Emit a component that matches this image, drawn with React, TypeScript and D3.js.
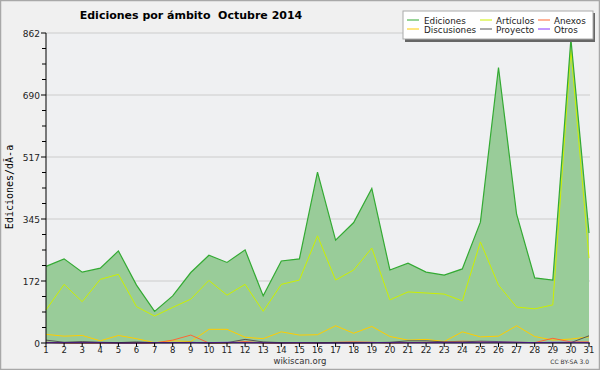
import React from "react";
import * as d3 from "d3";

const days = d3.range(1, 32);
const ediciones = [213,234,197,208,256,161,88,131,196,244,224,259,131,228,234,475,286,335,430,203,222,197,189,206,336,766,358,181,175,845,306];
const articulos = [92,163,115,177,191,101,75,99,122,174,133,163,88,163,175,298,175,203,264,120,142,139,136,117,281,161,100,95,106,815,236];
const discusiones = [24,19,21,6,21,12,1,6,4,38,38,16,12,31,22,23,48,27,46,18,8,10,4,31,17,19,48,18,8,11,17];
const anexos = [2,0,0,0,0,0,0,8,22,0,0,4,0,0,0,0,2,3,2,0,1,2,3,5,4,2,2,1,13,3,3];
const proyecto = [8,2,4,2,1,3,1,1,2,0,1,10,3,1,1,1,1,1,1,2,6,6,3,3,5,4,2,1,1,1,20];
const otros = [1,1,1,1,0,0,1,1,1,1,2,1,1,0,1,0,0,0,1,1,1,1,1,1,2,2,2,1,2,2,1];
const yTickLabels = ["0", "172", "345", "517", "690", "862"];
const yMax = 862;

const legendItems = [
  { name: "Ediciones", color: "#33aa33" },
  { name: "Discusiones", color: "#ffcc00" },
  { name: "Artículos", color: "#ccf000" },
  { name: "Proyecto", color: "#555555" },
  { name: "Anexos", color: "#ff6633" },
  { name: "Otros", color: "#8833ff" },
];

export default function App() {
  const W = 600, H = 370;
  const x = d3.scaleLinear().domain([1, 31]).range([46, 589]);
  const y = d3.scaleLinear().domain([0, yMax]).range([343, 33]);
  const line = (vals: number[]) =>
    d3.line<number>().x((_, i) => x(days[i])).y((v) => y(v))(vals) || "";
  const area = d3
    .area<number>()
    .x((_, i) => x(days[i]))
    .y0(y(0))
    .y1((v) => y(v))(ediciones) || "";
  const majors = d3.range(0, 6).map((i) => (yMax / 5) * i);
  const minors = d3.range(0, 21).map((i) => (yMax / 20) * i).filter((_, i) => i % 4 !== 0);
  const series = [
    { vals: discusiones, color: "#ffcc00" },
    { vals: anexos, color: "#ff6633" },
    { vals: proyecto, color: "#555555" },
    { vals: otros, color: "#8833ff" },
    { vals: articulos, color: "#ccf000" },
  ];
  const font = "DejaVu Sans, sans-serif";
  return (
    <svg width={W} height={H} style={{ position: "absolute", left: 0, top: 0 }} xmlns="http://www.w3.org/2000/svg">
      <rect x={0} y={0} width={W} height={H} fill="#f0f0f0" />
      <rect x={0.5} y={0.5} width={W - 1} height={H - 1} fill="none" stroke="#a8a8a8" strokeWidth={1.5} />
      <rect x={46} y={33} width={543} height={310} fill="#eff0f2" />
      {majors.slice(1).map((v, i) => (
        <line key={"g" + i} x1={46} x2={590} y1={y(v)} y2={y(v)} stroke="#cccccc" strokeWidth={1} />
      ))}
      <path d={area} fill="#99cc99" stroke="none" />
      {series.map((s, i) => (
        <path key={"s" + i} d={line(s.vals)} fill="none" stroke={s.color} strokeWidth={1} />
      ))}
      <path d={line(ediciones)} fill="none" stroke="#33aa33" strokeWidth={1.2} />
      {/* axes */}
      <line x1={46} x2={46} y1={33} y2={343} stroke="#000" />
      <line x1={46} x2={590} y1={343} y2={343} stroke="#000" />
      {majors.map((v, i) => (
        <g key={"yt" + i}>
          <line x1={41} x2={46} y1={y(v)} y2={y(v)} stroke="#000" />
          <text x={40} y={y(v) + 3.5} textAnchor="end" fontSize={9} fontFamily={font} fill="#222">
            {yTickLabels[i]}
          </text>
        </g>
      ))}
      {minors.map((v, i) => (
        <line key={"ym" + i} x1={42} x2={46} y1={y(v)} y2={y(v)} stroke="#000" />
      ))}
      {days.map((d) => (
        <g key={"xt" + d}>
          <line x1={x(d)} x2={x(d)} y1={343} y2={347} stroke="#000" />
          <text x={x(d)} y={353} textAnchor="middle" fontSize={8.5} fontFamily={font} fill="#222">
            {d}
          </text>
        </g>
      ))}
      <text x={191} y={19} textAnchor="middle" fontSize={11} fontWeight="bold" fontFamily={font} fill="#000" style={{ whiteSpace: "pre" }}>
        {"Ediciones por ámbito  Octubre 2014"}
      </text>
      <text
        transform={`translate(13, 187) rotate(-90)`}
        textAnchor="middle"
        fontSize={10}
        fontFamily="DejaVu Sans Mono, monospace"
        fill="#000"
      >
        Ediciones/dÃ-a
      </text>
      <text x={300} y={364} textAnchor="middle" fontSize={8.5} fontFamily={font} fill="#333">
        wikiscan.org
      </text>
      <text x={589} y={364} textAnchor="end" fontSize={6} fontFamily={font} fill="#333">
        CC BY-SA 3.0
      </text>
      {/* legend */}
      <rect x={405} y={13} width={190} height={29} fill="#666" />
      <rect x={403} y={11} width={190} height={28} fill="#fff" stroke="#aaa" strokeWidth={1} />
      {legendItems.map((it, i) => {
        const col = Math.floor(i / 2);
        const row = i % 2;
        const lx = [407, 480, 538][col];
        const tx = [424, 496, 554][col];
        const ly = 20 + row * 9;
        return (
          <g key={"lg" + i}>
            <line x1={lx} x2={lx + 12} y1={ly} y2={ly} stroke={it.color} strokeWidth={1} />
            <text x={tx} y={ly + 3.5} fontSize={8.8} fontFamily={font} fill="#222">
              {it.name}
            </text>
          </g>
        );
      })}
    </svg>
  );
}
